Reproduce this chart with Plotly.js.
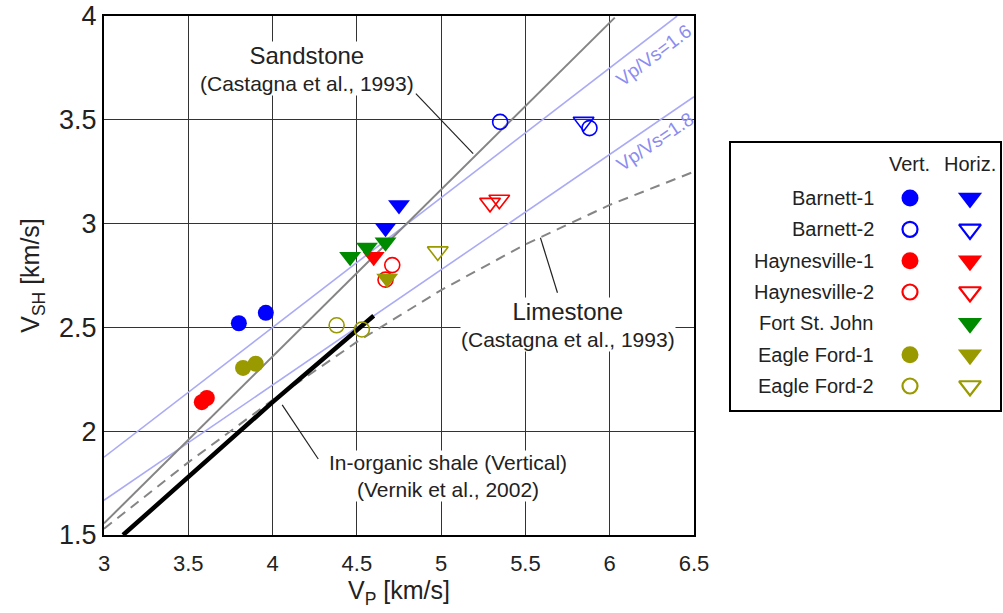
<!DOCTYPE html>
<html>
<head>
<meta charset="utf-8">
<script src="https://cdn.plot.ly/plotly-3.0.1.min.js"></script>
<style>html,body{margin:0;padding:0;background:#fff;}#chart{width:1003px;height:613px;}</style>
</head>
<body>
<div id="chart"></div>
<script>
// ---- Reference lines ----
const sandVp = [3.0, 6.03];
const sandVs = [1.556, 3.992];
const limeVp = [3.0, 3.5, 4.0, 4.5, 5.0, 5.5, 6.0, 6.5];
const limeVs = [1.53, 1.85, 2.15, 2.43, 2.68, 2.90, 3.09, 3.25];
const r16Vp = [3.0, 6.40];
const r16Vs = [1.875, 4.0];
const r18Vp = [3.0, 6.5];
const r18Vs = [1.667, 3.611];
const shaleVp = [3.113, 4.0, 4.6];
const shaleVs = [1.5, 2.14, 2.556];

// ---- Measured data ----
const barnett1VertVp = [3.80, 3.96];
const barnett1VertVs = [2.52, 2.57];
const barnett1HorVp = [4.75, 4.67];
const barnett1HorVs = [3.09, 2.98];
const barnett2VertVp = [5.35, 5.88];
const barnett2VertVs = [3.49, 3.46];
const barnett2HorVp = [5.845];
const barnett2HorVs = [3.49];
const hay1VertVp = [3.58, 3.61];
const hay1VertVs = [2.14, 2.16];
const hay1HorVp = [4.60];
const hay1HorVs = [2.84];
const hay2VertVp = [4.71, 4.67];
const hay2VertVs = [2.80, 2.73];
const hay2HorVp = [5.29, 5.345];
const hay2HorVs = [3.10, 3.115];
const fsjHorVp = [4.46, 4.56, 4.67];
const fsjHorVs = [2.84, 2.885, 2.91];
const ef1VertVp = [3.825, 3.90];
const ef1VertVs = [2.305, 2.325];
const ef1HorVp = [4.68];
const ef1HorVs = [2.735];
const ef2VertVp = [4.38, 4.53];
const ef2VertVs = [2.51, 2.49];
const ef2HorVp = [4.98];
const ef2HorVs = [2.866];

// ---- Legend table ----
const legendNames = ['Barnett-1', 'Barnett-2', 'Haynesville-1', 'Haynesville-2', 'Fort St. John', 'Eagle Ford-1', 'Eagle Ford-2'];
const legendColors = ['#0000ff', '#0000ff', '#ff0000', '#ff0000', '#008a00', '#999900', '#999900'];
const legendFilled = [true, false, true, false, true, true, false];
const legendHasVert = [true, true, true, true, false, true, true];
const legendHeaders = ['Vert.', 'Horiz.'];

const FONT = 'Liberation Sans, Arial, sans-serif';
const BLUE = '#0000ff', RED = '#ff0000', GREEN = '#008a00', OLIVE = '#999900';

function line(x, y, color, width, dash) {
  return {x: x, y: y, type: 'scatter', mode: 'lines', hoverinfo: 'skip',
    line: {color: color, width: width, dash: dash || 'solid'}, showlegend: false};
}
function pts(x, y, color, symbol, size) {
  const open = symbol.indexOf('open') >= 0;
  return {x: x, y: y, type: 'scatter', mode: 'markers', showlegend: false,
    marker: {symbol: symbol, size: size, color: color, line: {color: color, width: open ? 1.6 : 0}}};
}

const traces = [
  line(r16Vp, r16Vs, '#aaaaf6', 1.6),
  line(r18Vp, r18Vs, '#aaaaf6', 1.6),
  line(limeVp, limeVs, '#858585', 2, '10px,7px'),
  line(sandVp, sandVs, '#858585', 2),
  line(shaleVp, shaleVs, '#000000', 4.5),
  pts(barnett1VertVp, barnett1VertVs, BLUE, 'circle', 16),
  pts(barnett1HorVp, barnett1HorVs, BLUE, 'triangle-down', 19),
  pts(barnett2VertVp, barnett2VertVs, BLUE, 'circle-open', 15),
  pts(barnett2HorVp, barnett2HorVs, BLUE, 'triangle-down-open', 18),
  pts(hay1VertVp, hay1VertVs, RED, 'circle', 16),
  pts(hay1HorVp, hay1HorVs, RED, 'triangle-down', 19),
  pts(hay2VertVp, hay2VertVs, RED, 'circle-open', 15),
  pts(hay2HorVp, hay2HorVs, RED, 'triangle-down-open', 18),
  pts(fsjHorVp, fsjHorVs, GREEN, 'triangle-down', 19),
  pts(ef1VertVp, ef1VertVs, OLIVE, 'circle', 16),
  pts(ef1HorVp, ef1HorVs, OLIVE, 'triangle-down', 19),
  pts(ef2VertVp, ef2VertVs, OLIVE, 'circle-open', 15),
  pts(ef2HorVp, ef2HorVs, OLIVE, 'triangle-down-open', 18)
];

// legend markers on their own axes
const annotations = [];
legendNames.forEach(function (name, i) {
  const c = legendColors[i];
  if (legendHasVert[i]) {
    traces.push({x: [1], y: [i], xaxis: 'x2', yaxis: 'y2', type: 'scatter', mode: 'markers', showlegend: false,
      marker: {symbol: legendFilled[i] ? 'circle' : 'circle-open', size: legendFilled[i] ? 17 : 15, color: c,
        line: {color: c, width: legendFilled[i] ? 0 : 2.2}}});
  }
  traces.push({x: [2], y: [i], xaxis: 'x2', yaxis: 'y2', type: 'scatter', mode: 'markers', showlegend: false,
    marker: {symbol: legendFilled[i] ? 'triangle-down' : 'triangle-down-open', size: legendFilled[i] ? 21 : 19, color: c,
      line: {color: c, width: legendFilled[i] ? 0 : 2.2}}});
  annotations.push({xref: 'x2', yref: 'y2', x: 0.43, y: i, xanchor: 'right', yanchor: 'middle', showarrow: false,
    text: name, font: {family: FONT, size: 20, color: '#222'}});
});
legendHeaders.forEach(function (h, j) {
  annotations.push({xref: 'x2', yref: 'y2', x: j + 1, y: -1.1, xanchor: 'center', yanchor: 'middle', showarrow: false,
    text: h, font: {family: FONT, size: 20, color: '#222'}});
});

// chart annotations
annotations.push(
  {xref: 'x', yref: 'y', x: 4.205, y: 3.745, showarrow: false, xanchor: 'center', yanchor: 'middle',
    text: '<span style="font-size:24px">Sandstone</span><br>(Castagna et al., 1993)',
    font: {family: FONT, size: 21, color: '#222'}, bgcolor: '#ffffff', borderpad: 0},
  {xref: 'x', yref: 'y', x: 5.755, y: 2.515, showarrow: false, xanchor: 'center', yanchor: 'middle',
    text: '<span style="font-size:24px">Limestone</span><br>(Castagna et al., 1993)',
    font: {family: FONT, size: 21, color: '#222'}, bgcolor: '#ffffff', borderpad: 0},
  {xref: 'x', yref: 'y', x: 5.04, y: 1.785, showarrow: false, xanchor: 'center', yanchor: 'middle',
    text: 'In-organic shale (Vertical)<br>(Vernik et al., 2002)',
    font: {family: FONT, size: 21, color: '#222'}, bgcolor: '#ffffff', borderpad: 0},
  {xref: 'x', yref: 'y', x: 6.26, y: 3.808, showarrow: false, textangle: -37,
    text: 'Vp/Vs=1.6', font: {family: FONT, size: 19, color: '#8c8cf0'}},
  {xref: 'x', yref: 'y', x: 6.27, y: 3.395, showarrow: false, textangle: -34,
    text: 'Vp/Vs=1.8', font: {family: FONT, size: 19, color: '#8c8cf0'}}
);

const shapes = [
  {type: 'line', xref: 'x', yref: 'y', x0: 4.85, y0: 3.626, x1: 5.19, y1: 3.337, line: {color: '#222', width: 1.2}},
  {type: 'line', xref: 'x', yref: 'y', x0: 5.69, y0: 2.667, x1: 5.589, y1: 2.932, line: {color: '#222', width: 1.2}},
  {type: 'line', xref: 'x', yref: 'y', x0: 4.057, y0: 2.127, x1: 4.271, y1: 1.866, line: {color: '#222', width: 1.2}}
];

const layout = {
  width: 1003, height: 613,
  margin: {l: 104, r: 3, t: 16, b: 78, pad: 0},
  paper_bgcolor: '#ffffff', plot_bgcolor: '#ffffff',
  font: {family: FONT, color: '#222'},
  showlegend: false,
  xaxis: {domain: [0, 590 / 896], range: [3, 6.5], dtick: 0.5, tick0: 3, showgrid: true, gridcolor: '#333', gridwidth: 1,
    zeroline: false, showline: true, mirror: true, linecolor: '#000', linewidth: 2, ticks: '',
    ticklabelstandoff: 8,
    tickfont: {family: FONT, size: 22, color: '#222'},
    title: {text: 'V<sub>P</sub> [km/s]', font: {family: FONT, size: 25, color: '#222'}, standoff: 2}},
  yaxis: {domain: [0, 1], range: [1.5, 4], dtick: 0.5, tick0: 1.5, showgrid: true, gridcolor: '#333', gridwidth: 1,
    zeroline: false, showline: true, mirror: true, linecolor: '#000', linewidth: 2, ticks: '',
    tickfont: {family: FONT, size: 27, color: '#222'},
    title: {text: 'V<sub>SH</sub> [km/s]', font: {family: FONT, size: 25, color: '#222'}, standoff: 12}},
  xaxis2: {domain: [(731 - 104) / 896, (1000 - 104) / 896], anchor: 'y2', range: [-1.983, 2.5],
    showgrid: false, zeroline: false, showticklabels: false, ticks: '', showline: true, mirror: true, linecolor: '#000', linewidth: 2, fixedrange: true},
  yaxis2: {domain: [(535 - 410) / 519, (535 - 143) / 519], anchor: 'x2', range: [6.766, -1.755],
    showgrid: false, zeroline: false, showticklabels: false, ticks: '', showline: true, mirror: true, linecolor: '#000', linewidth: 2, fixedrange: true},
  annotations: annotations,
  shapes: shapes
};

Plotly.newPlot('chart', traces, layout, {displayModeBar: false, staticPlot: true});
</script>
</body>
</html>
